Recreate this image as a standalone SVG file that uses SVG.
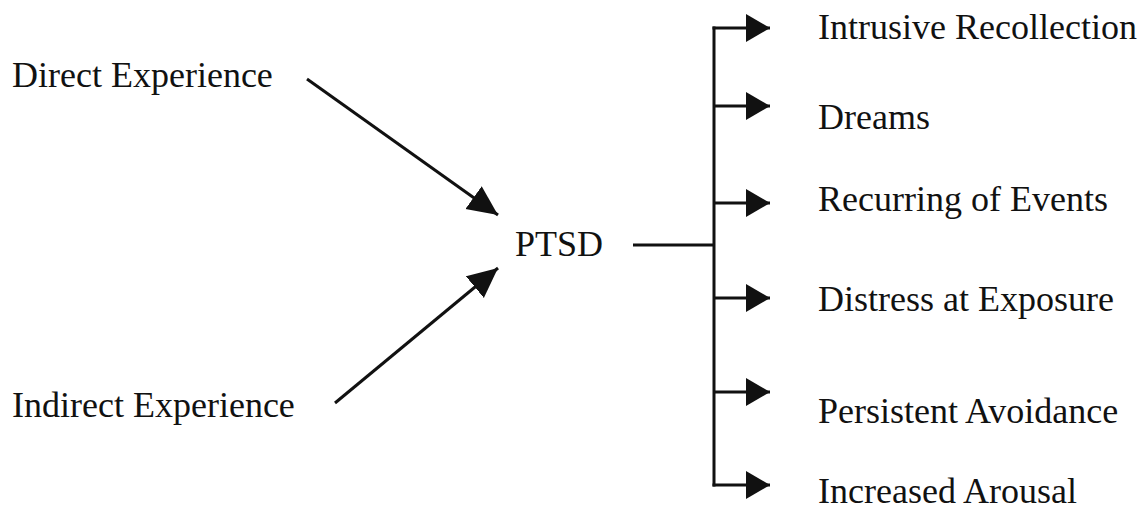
<svg xmlns="http://www.w3.org/2000/svg" width="1142" height="509" viewBox="0 0 1142 509">
<style>
text{font-family:"Liberation Serif","Times New Roman",serif;font-size:36px;fill:#111}
.c{stroke:#111;stroke-width:3;fill:none}
</style>
<defs>
<marker id="ah" markerUnits="userSpaceOnUse" markerWidth="26" markerHeight="30" refX="24" refY="14" orient="auto"><path d="M0,0 L24,14 L0,28 Z" fill="#111"/></marker>
<marker id="ahd" markerUnits="userSpaceOnUse" markerWidth="32" markerHeight="30" refX="30" refY="14" orient="auto"><path d="M0,0 L30,14 L0,28 Z" fill="#111"/></marker>
</defs>
<rect width="1142" height="509" fill="#fff"/>
<g id="connectors">
<line class="c" x1="307" y1="79" x2="498" y2="215" marker-end="url(#ahd)"/>
<line class="c" x1="335" y1="403" x2="498" y2="268" marker-end="url(#ahd)"/>
<line class="c" x1="633" y1="245" x2="714" y2="245"/>
<line class="c" x1="714" y1="26.5" x2="714" y2="486.5"/>
<line class="c" x1="712.5" y1="28" x2="770" y2="28" marker-end="url(#ah)"/>
<line class="c" x1="714" y1="106" x2="770" y2="106" marker-end="url(#ah)"/>
<line class="c" x1="714" y1="203" x2="770" y2="203" marker-end="url(#ah)"/>
<line class="c" x1="714" y1="298" x2="770" y2="298" marker-end="url(#ah)"/>
<line class="c" x1="714" y1="392" x2="770" y2="392" marker-end="url(#ah)"/>
<line class="c" x1="712.5" y1="485" x2="770" y2="485" marker-end="url(#ah)"/>
</g>
<g id="direct"><text x="12" y="87">Direct Experience</text></g>
<g id="indirect"><text x="12" y="417">Indirect Experience</text></g>
<g id="ptsd"><text x="515" y="256">PTSD</text></g>
<g id="intrusive"><text x="818" y="39">Intrusive Recollection</text></g>
<g id="dreams"><text x="818" y="129">Dreams</text></g>
<g id="recurring"><text x="818" y="211">Recurring of Events</text></g>
<g id="distress"><text x="818" y="311">Distress at Exposure</text></g>
<g id="persistent"><text x="818" y="423">Persistent Avoidance</text></g>
<g id="increased"><text x="818" y="503">Increased Arousal</text></g>
</svg>
